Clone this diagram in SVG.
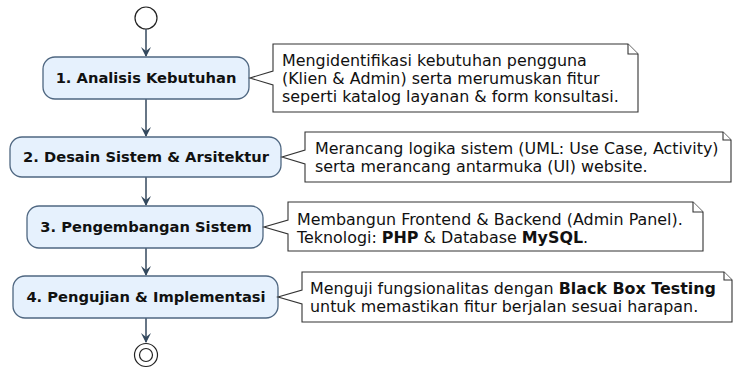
<svg xmlns="http://www.w3.org/2000/svg" width="733" height="374" viewBox="0 0 733 374">
<style>
.node rect{fill:#E6F1FD;stroke:#4F6781;stroke-width:1.3}
.node text{font-family:"DejaVu Sans",sans-serif;font-size:14.7px;font-weight:bold;fill:#111;text-anchor:middle}
.note path{fill:#fff;stroke:#333;stroke-width:1.1}
.note text{font-family:"DejaVu Sans",sans-serif;font-size:15.9px;fill:#111}
.b{font-weight:bold}
.conn line{stroke:#34495E;stroke-width:1.5}
.conn path{fill:#34495E;stroke:none}
.term{fill:#fff;stroke:#222;stroke-width:1.2}
</style>
<defs>
<path id="ah" d="M0 0 L-5 -10 L0 -6 L5 -10 Z"/>
</defs>
<g id="start"><circle class="term" cx="146" cy="18" r="11"/></g>
<g id="end"><circle class="term" cx="146" cy="355" r="11.5"/><circle class="term" cx="146" cy="355" r="6.5"/></g>
<g id="connectors" class="conn">
<line x1="146" y1="29" x2="146" y2="56"/><use href="#ah" x="146" y="57" fill="#34495E"/>
<line x1="146" y1="99" x2="146" y2="136"/><use href="#ah" x="146" y="137" fill="#34495E"/>
<line x1="146" y1="177" x2="146" y2="205"/><use href="#ah" x="146" y="206" fill="#34495E"/>
<line x1="146" y1="248" x2="146" y2="275"/><use href="#ah" x="146" y="276" fill="#34495E"/>
<line x1="146" y1="318" x2="146" y2="342"/><use href="#ah" x="146" y="343" fill="#34495E"/>
</g>
<g id="n1" class="node"><rect x="43" y="57" width="206" height="42" rx="12"/><text x="146" y="83">1. Analisis Kebutuhan</text></g>
<g id="n2" class="node"><rect x="10" y="137" width="271" height="40" rx="12"/><text x="146" y="162">2. Desain Sistem &amp; Arsitektur</text></g>
<g id="n3" class="node"><rect x="27" y="206" width="236" height="42" rx="12"/><text x="146" y="232">3. Pengembangan Sistem</text></g>
<g id="n4" class="node"><rect x="13" y="276" width="265" height="42" rx="12"/><text x="146" y="302">4. Pengujian &amp; Implementasi</text></g>
<g id="note1" class="note">
<path d="M273 44 L628 44 L638 54 L638 112 L273 112 L273 85 L250 78 L273 71 Z"/>
<path d="M628 44 L628 54 L638 54"/>
<text x="282" y="66">Mengidentifikasi kebutuhan pengguna</text>
<text x="282" y="84">(Klien &amp; Admin) serta merumuskan fitur</text>
<text x="282" y="102">seperti katalog layanan &amp; form konsultasi.</text>
</g>
<g id="note2" class="note">
<path d="M305 132 L723 132 L731 140 L731 182 L305 182 L305 164 L282 157 L305 150 Z"/>
<path d="M723 132 L723 140 L731 140"/>
<text x="315" y="154">Merancang logika sistem (UML: Use Case, Activity)</text>
<text x="315" y="172">serta merancang antarmuka (UI) website.</text>
</g>
<g id="note3" class="note">
<path d="M288 202 L693 202 L703 212 L703 251 L288 251 L288 234 L264 227 L288 220 Z"/>
<path d="M693 202 L693 212 L703 212"/>
<text x="297" y="225">Membangun Frontend &amp; Backend (Admin Panel).</text>
<text x="297" y="243">Teknologi: <tspan class="b">PHP</tspan> &amp; Database <tspan class="b">MySQL</tspan>.</text>
</g>
<g id="note4" class="note">
<path d="M302 272 L724 272 L732 280 L732 322 L302 322 L302 304 L278 297 L302 290 Z"/>
<path d="M724 272 L724 280 L732 280"/>
<text x="310" y="294">Menguji fungsionalitas dengan <tspan class="b">Black Box Testing</tspan></text>
<text x="310" y="312">untuk memastikan fitur berjalan sesuai harapan.</text>
</g>
</svg>
